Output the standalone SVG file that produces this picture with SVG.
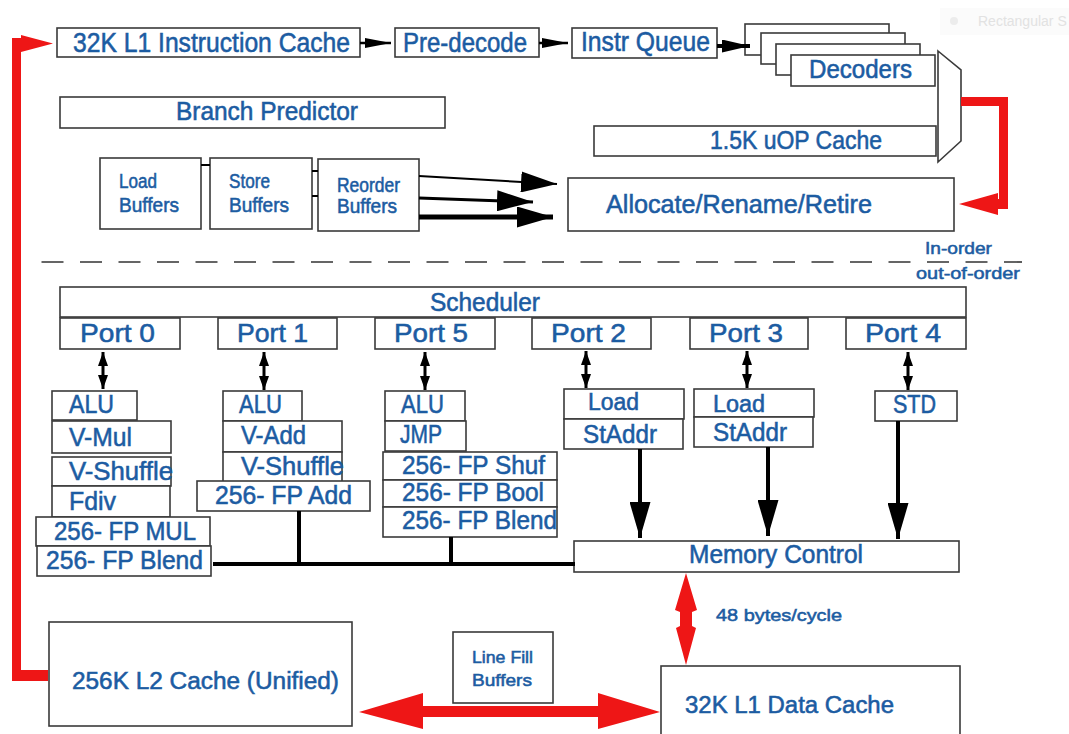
<svg xmlns="http://www.w3.org/2000/svg" width="1069" height="734" viewBox="0 0 1069 734">
<style>
.b{fill:#fff;stroke:#3a3a3a;stroke-width:1.6}
.t{font-family:"Liberation Sans",Arial,sans-serif;fill:#1c5ca2;stroke:#1c5ca2;stroke-width:0.55}
.f27{font-size:27px}.f26{font-size:26px}.f25{font-size:25px}.f23{font-size:23px}.f20{font-size:20px}.f17{font-size:17px}
.k{stroke:#000;fill:none}
.red{fill:#ee1616;stroke:none}
</style>
<defs>
<marker id="ms" markerUnits="userSpaceOnUse" viewBox="0 0 26 10" markerWidth="26" markerHeight="10" refX="26" refY="5" orient="auto"><path d="M0,0L26,5L0,10z" fill="#000"/></marker>
<marker id="mm" markerUnits="userSpaceOnUse" viewBox="0 0 28 13" markerWidth="28" markerHeight="13" refX="28" refY="6.5" orient="auto"><path d="M0,0L28,6.5L0,13z" fill="#000"/></marker>
<marker id="mb" markerUnits="userSpaceOnUse" viewBox="0 0 36 21" markerWidth="36" markerHeight="21" refX="36" refY="10.5" orient="auto"><path d="M0,0L36,10.5L0,21z" fill="#000"/></marker>
<marker id="md" markerUnits="userSpaceOnUse" viewBox="0 0 14 10" markerWidth="14" markerHeight="10" refX="14" refY="5" orient="auto-start-reverse"><path d="M0,0L14,5L0,10z" fill="#000"/></marker>
</defs>
<rect width="1069" height="734" fill="#fff"/>

<g id="snip-artifact">
<rect x="940" y="8" width="129" height="27" fill="#fbfbfb"/>
<circle cx="954" cy="21" r="4" fill="#ececec"/>
<text x="978" y="26" font-family="Liberation Sans,Arial,sans-serif" font-size="14" fill="#e2e2e2">Rectangular S</text>
</g>

<g id="l1i"><rect class="b" x="57" y="28" width="303" height="29"/><text class="t f27" x="73" y="52" textLength="277" lengthAdjust="spacingAndGlyphs">32K L1 Instruction Cache</text></g>
<g id="predecode"><rect class="b" x="395" y="28" width="144" height="29"/><text class="t f27" x="403" y="52" textLength="124" lengthAdjust="spacingAndGlyphs">Pre-decode</text></g>
<g id="iq"><rect class="b" x="572" y="28" width="145" height="30"/><text class="t f27" x="581" y="51" textLength="129" lengthAdjust="spacingAndGlyphs">Instr Queue</text></g>
<g id="decoders">
<rect class="b" x="745" y="24" width="144" height="31"/>
<rect class="b" x="761" y="33" width="144" height="31"/>
<rect class="b" x="776" y="44" width="144" height="31"/>
<rect class="b" x="791" y="55" width="144" height="31"/>
<text class="t f25" x="809" y="78" textLength="103" lengthAdjust="spacingAndGlyphs">Decoders</text></g>
<g id="mux"><polygon class="b" points="938,51 961,70 961,141 938,162"/></g>
<g id="bp"><rect class="b" x="60" y="97" width="385" height="31"/><text class="t f25" x="176" y="120" textLength="182" lengthAdjust="spacingAndGlyphs">Branch Predictor</text></g>
<g id="uop"><rect class="b" x="594" y="126" width="342" height="30"/><text class="t f25" x="710" y="149" textLength="172" lengthAdjust="spacingAndGlyphs">1.5K uOP Cache</text></g>
<g id="loadbuf"><rect class="b" x="100" y="158" width="101" height="71"/><text class="t f20" x="119" y="188" textLength="38" lengthAdjust="spacingAndGlyphs">Load</text><text class="t f20" x="119" y="212" textLength="60" lengthAdjust="spacingAndGlyphs">Buffers</text></g>
<g id="storebuf"><rect class="b" x="210" y="158" width="102" height="71"/><text class="t f20" x="229" y="188" textLength="41" lengthAdjust="spacingAndGlyphs">Store</text><text class="t f20" x="229" y="212" textLength="60" lengthAdjust="spacingAndGlyphs">Buffers</text></g>
<g id="rob"><rect class="b" x="318" y="159" width="101" height="72"/><text class="t f20" x="337" y="192" textLength="63" lengthAdjust="spacingAndGlyphs">Reorder</text><text class="t f20" x="337" y="213" textLength="60" lengthAdjust="spacingAndGlyphs">Buffers</text></g>
<g id="alloc"><rect class="b" x="568" y="178" width="386" height="53"/><text class="t f25" x="606" y="213" textLength="266" lengthAdjust="spacingAndGlyphs">Allocate/Rename/Retire</text></g>
<g id="order-labels"><text class="t f17" x="925" y="254" textLength="67" lengthAdjust="spacingAndGlyphs">In-order</text><text class="t f17" x="916" y="279" textLength="104" lengthAdjust="spacingAndGlyphs">out-of-order</text></g>
<g id="divider"><path d="M41.5,262H1022" stroke="#333" stroke-width="1.6" stroke-dasharray="22 16.5" fill="none"/></g>

<g id="scheduler"><rect class="b" x="60" y="287" width="906" height="30"/><text class="t f25" x="430" y="311" textLength="110" lengthAdjust="spacingAndGlyphs">Scheduler</text></g>
<g id="port0"><rect class="b" x="60" y="318" width="120" height="31"/><text class="t f26" x="80" y="342" textLength="75" lengthAdjust="spacingAndGlyphs">Port 0</text></g>
<g id="port1"><rect class="b" x="218" y="318" width="119" height="31"/><text class="t f26" x="237" y="342" textLength="71" lengthAdjust="spacingAndGlyphs">Port 1</text></g>
<g id="port5"><rect class="b" x="375" y="318" width="120" height="31"/><text class="t f26" x="394" y="342" textLength="74" lengthAdjust="spacingAndGlyphs">Port 5</text></g>
<g id="port2"><rect class="b" x="532" y="318" width="119" height="31"/><text class="t f26" x="551" y="342" textLength="75" lengthAdjust="spacingAndGlyphs">Port 2</text></g>
<g id="port3"><rect class="b" x="690" y="318" width="118" height="31"/><text class="t f26" x="709" y="342" textLength="74" lengthAdjust="spacingAndGlyphs">Port 3</text></g>
<g id="port4"><rect class="b" x="846" y="318" width="120" height="31"/><text class="t f26" x="865" y="342" textLength="76" lengthAdjust="spacingAndGlyphs">Port 4</text></g>

<g id="p0-units">
<rect class="b" x="52" y="391" width="85" height="29"/><text class="t f25" x="69" y="413" textLength="45" lengthAdjust="spacingAndGlyphs">ALU</text>
<rect class="b" x="52" y="421" width="119" height="32"/><text class="t f26" x="69" y="446" textLength="63" lengthAdjust="spacingAndGlyphs">V-Mul</text>
<rect class="b" x="52" y="457" width="119" height="29"/><text class="t f26" x="69" y="480" textLength="104" lengthAdjust="spacingAndGlyphs">V-Shuffle</text>
<rect class="b" x="52" y="486" width="118" height="31"/><text class="t f26" x="69" y="510" textLength="47" lengthAdjust="spacingAndGlyphs">Fdiv</text>
<rect class="b" x="36" y="517" width="174" height="29"/><text class="t f25" x="54" y="540" textLength="142" lengthAdjust="spacingAndGlyphs">256- FP MUL</text>
<rect class="b" x="37" y="546" width="174" height="30"/><text class="t f25" x="46" y="569" textLength="157" lengthAdjust="spacingAndGlyphs">256- FP Blend</text>
</g>
<g id="p1-units">
<rect class="b" x="223" y="391" width="79" height="30"/><text class="t f25" x="239" y="413" textLength="43" lengthAdjust="spacingAndGlyphs">ALU</text>
<rect class="b" x="223" y="421" width="119" height="31"/><text class="t f25" x="241" y="444" textLength="65" lengthAdjust="spacingAndGlyphs">V-Add</text>
<rect class="b" x="223" y="452" width="119" height="30"/><text class="t f25" x="241" y="475" textLength="103" lengthAdjust="spacingAndGlyphs">V-Shuffle</text>
<rect class="b" x="197" y="481" width="173" height="30"/><text class="t f25" x="215" y="504" textLength="137" lengthAdjust="spacingAndGlyphs">256- FP Add</text>
</g>
<g id="p5-units">
<rect class="b" x="385" y="391" width="80" height="30"/><text class="t f25" x="401" y="413" textLength="43" lengthAdjust="spacingAndGlyphs">ALU</text>
<rect class="b" x="385" y="421" width="81" height="30"/><text class="t f25" x="400" y="443" textLength="42" lengthAdjust="spacingAndGlyphs">JMP</text>
<rect class="b" x="383" y="452" width="174" height="28"/><text class="t f25" x="402" y="474" textLength="143" lengthAdjust="spacingAndGlyphs">256- FP Shuf</text>
<rect class="b" x="383" y="480" width="174" height="27"/><text class="t f25" x="402" y="501" textLength="142" lengthAdjust="spacingAndGlyphs">256- FP Bool</text>
<rect class="b" x="383" y="507" width="174" height="30"/><text class="t f25" x="402" y="529" textLength="155" lengthAdjust="spacingAndGlyphs">256- FP Blend</text>
</g>
<g id="p2-units">
<rect class="b" x="564" y="389" width="120" height="30"/><text class="t f23" x="588" y="410" textLength="51" lengthAdjust="spacingAndGlyphs">Load</text>
<rect class="b" x="564" y="419" width="119" height="30"/><text class="t f25" x="583" y="443" textLength="74" lengthAdjust="spacingAndGlyphs">StAddr</text>
</g>
<g id="p3-units">
<rect class="b" x="694" y="389" width="120" height="28"/><text class="t f23" x="713" y="412" textLength="52" lengthAdjust="spacingAndGlyphs">Load</text>
<rect class="b" x="694" y="417" width="119" height="30"/><text class="t f25" x="713" y="441" textLength="74" lengthAdjust="spacingAndGlyphs">StAddr</text>
</g>
<g id="p4-units"><rect class="b" x="875" y="391" width="82" height="30"/><text class="t f25" x="893" y="413" textLength="43" lengthAdjust="spacingAndGlyphs">STD</text></g>
<g id="memctl"><rect class="b" x="574" y="541" width="385" height="31"/><text class="t f25" x="689" y="563" textLength="174" lengthAdjust="spacingAndGlyphs">Memory Control</text></g>
<g id="l2"><rect class="b" x="49" y="622" width="303" height="104"/><text class="t f23" x="72" y="689" textLength="267" lengthAdjust="spacingAndGlyphs">256K L2 Cache (Unified)</text></g>
<g id="lfb"><rect class="b" x="453" y="632" width="100" height="71"/><text class="t f17" x="472" y="663" textLength="61" lengthAdjust="spacingAndGlyphs">Line Fill</text><text class="t f17" x="472" y="686" textLength="60" lengthAdjust="spacingAndGlyphs">Buffers</text></g>
<g id="l1d"><rect class="b" x="661" y="666" width="299" height="80"/><text class="t f23" x="685" y="713" textLength="209" lengthAdjust="spacingAndGlyphs">32K L1 Data Cache</text></g>
<g id="bw-label"><text class="t f17" x="716" y="621" textLength="126" lengthAdjust="spacingAndGlyphs">48 bytes/cycle</text></g>

<g id="connectors">
<path class="k" d="M360,43H391" stroke-width="2.5" marker-end="url(#ms)"/>
<path class="k" d="M539,43H568" stroke-width="2.5" marker-end="url(#ms)"/>
<path class="k" d="M717,46H750" stroke-width="4" marker-end="url(#mm)"/>
<path class="k" d="M201,165H210M312,171H318M312,196H318" stroke-width="2"/>
<path class="k" d="M419,176L557,184" stroke-width="2" marker-end="url(#mb)"/>
<path class="k" d="M419,198L533,202" stroke-width="3" marker-end="url(#mb)"/>
<path class="k" d="M419,217H553" stroke-width="5" marker-end="url(#mb)"/>
<path class="k" d="M103,352V389" stroke-width="3" marker-start="url(#md)" marker-end="url(#md)"/>
<path class="k" d="M264,352V390" stroke-width="3" marker-start="url(#md)" marker-end="url(#md)"/>
<path class="k" d="M425,352V390" stroke-width="3" marker-start="url(#md)" marker-end="url(#md)"/>
<path class="k" d="M586,351V388" stroke-width="3" marker-start="url(#md)" marker-end="url(#md)"/>
<path class="k" d="M747,351V388" stroke-width="3" marker-start="url(#md)" marker-end="url(#md)"/>
<path class="k" d="M908,352V390" stroke-width="3" marker-start="url(#md)" marker-end="url(#md)"/>
<path class="k" d="M640,449V538" stroke-width="4" marker-end="url(#mb)"/>
<path class="k" d="M768,447V536" stroke-width="4" marker-end="url(#mb)"/>
<path class="k" d="M898,421V539" stroke-width="4" marker-end="url(#mb)"/>
<path class="k" d="M213,564H575M299,511V566M451,537V566" stroke-width="4"/>
<path class="red" d="M12,681V38H21V35L53,43.5L21,52V670H48V681Z"/>
<path class="red" d="M961,97H1008V209H998V215L959,204L998,193V199H999V106H961Z"/>
<path class="red" d="M686,573L697,610L692,612V626L696,628L686,665L676,628L680,626V612L675,610Z"/>
<path class="red" d="M359,712L423,693V706H598V693L660,712L598,729V717H423V729Z"/>
</g>
</svg>
